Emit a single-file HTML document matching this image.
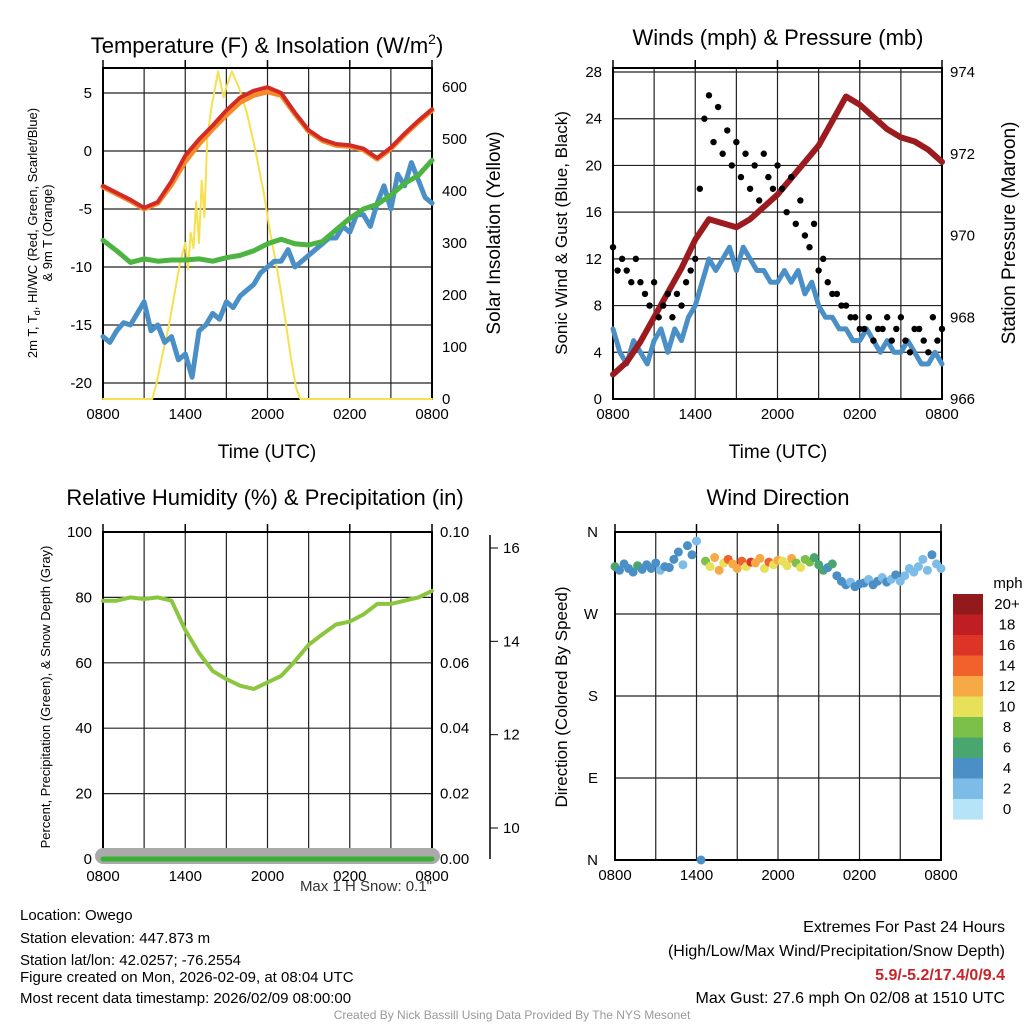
<!DOCTYPE html>
<html><head><meta charset="utf-8"><style>
body{margin:0;background:#fff}
svg{display:block;font-family:"Liberation Sans",sans-serif}
</style></head><body>
<svg id="s" width="1024" height="1024" viewBox="0 0 1024 1024" xmlns="http://www.w3.org/2000/svg">
<g id="g"></g>
<text x="267" y="53" font-size="22" text-anchor="middle">Temperature (F) &amp; Insolation (W/m<tspan font-size="14" dy="-9">2</tspan><tspan dy="9">)</tspan></text>
<text x="778" y="45" font-size="22" text-anchor="middle">Winds (mph) &amp; Pressure (mb)</text>
<text x="265" y="505" font-size="22" text-anchor="middle">Relative Humidity (%) &amp; Precipitation (in)</text>
<text x="778" y="505" font-size="22" text-anchor="middle">Wind Direction</text>
<g font-size="13" text-anchor="middle">
<text transform="translate(37,233) rotate(-90)">2m T, T<tspan font-size="9" dy="3">d</tspan><tspan dy="-3">, HI/WC (Red, Green, Scarlet/Blue)</tspan></text>
<text transform="translate(52,233) rotate(-90)">&amp; 9m T (Orange)</text>
</g>
<text transform="translate(500,233) rotate(-90)" font-size="19" text-anchor="middle">Solar Insolation (Yellow)</text>
<text x="267" y="458" font-size="19" text-anchor="middle">Time (UTC)</text>
<text transform="translate(567,233) rotate(-90)" font-size="17" text-anchor="middle">Sonic Wind &amp; Gust (Blue, Black)</text>
<text transform="translate(1015,233) rotate(-90)" font-size="19" text-anchor="middle">Station Pressure (Maroon)</text>
<text x="778" y="458" font-size="19" text-anchor="middle">Time (UTC)</text>
<text transform="translate(50,697) rotate(-90)" font-size="13" text-anchor="middle">Percent, Precipitation (Green), &amp; Snow Depth (Gray)</text>
<text transform="translate(567,697) rotate(-90)" font-size="17" text-anchor="middle">Direction (Colored By Speed)</text>
<text x="432" y="891" font-size="15" text-anchor="end" fill="#333">Max 1 H Snow: 0.1"</text>
<text x="1008" y="588" font-size="15" text-anchor="middle">mph</text>
<g font-size="15">
<text x="20" y="920">Location: Owego</text>
<text x="20" y="943">Station elevation: 447.873 m</text>
<text x="20" y="965">Station lat/lon: 42.0257; -76.2554</text>
<text x="20" y="982">Figure created on Mon, 2026-02-09, at 08:04 UTC</text>
<text x="20" y="1003">Most recent data timestamp: 2026/02/09 08:00:00</text>
</g>
<g font-size="16" text-anchor="end">
<text x="1005" y="932">Extremes For Past 24 Hours</text>
<text x="1005" y="956">(High/Low/Max Wind/Precipitation/Snow Depth)</text>
<text x="1005" y="980" fill="#c8242a" font-weight="bold">5.9/-5.2/17.4/0/9.4</text>
<text x="1005" y="1003">Max Gust: 27.6 mph On 02/08 at 1510 UTC</text>
</g>
<text x="512" y="1019" font-size="12" fill="#999" text-anchor="middle">Created By Nick Bassill Using Data Provided By The NYS Mesonet</text>
</svg>
<script>
// time axis: hours since 0800 UTC
const xTickLabels=["0800","1400","2000","0200","0800"];
const halfHours=[];for(let i=0;i<=48;i++)halfHours.push(i/2);
const hours=[];for(let i=0;i<=24;i++)hours.push(i);
const thirds=[];for(let i=0;i<=72;i++)thirds.push(i/3);
// temperature panel
const temp2m=[-3,-3.6,-4.2,-4.9,-4.4,-2.6,-0.4,1.0,2.2,3.5,4.6,5.2,5.5,5.0,3.3,1.8,1.0,0.6,0.5,0.2,-0.6,0.3,1.5,2.6,3.6];
const temp9m=[-3.1,-3.7,-4.3,-5.0,-4.5,-2.9,-0.9,0.6,1.9,3.1,4.2,4.8,5.1,4.8,3.2,1.7,0.9,0.5,0.4,0.1,-0.7,0.2,1.4,2.5,3.5];
const dewpt=[-7.7,-8.6,-9.6,-9.3,-9.5,-9.4,-9.4,-9.3,-9.5,-9.2,-9.0,-8.6,-8.0,-7.6,-8.0,-8.1,-7.8,-6.8,-5.8,-5.0,-4.6,-3.8,-2.8,-2.1,-0.8];
const windChill=[-16,-16.5,-15.5,-14.8,-15,-14,-13,-15.5,-15,-16.5,-16,-18,-17.5,-19.5,-15.5,-15,-14,-14.5,-13,-13.5,-12.5,-12,-11.5,-10.5,-10,-9.5,-9.5,-8.5,-10,-9.5,-9,-8.5,-8,-7.5,-7.5,-6.5,-7,-5.5,-5.5,-6.5,-4.5,-3,-5,-2,-3,-1,-2.5,-4,-4.5];
const solarTimes=[0,3.6,3.9,4.3,4.8,5.2,5.6,6.0,6.2,6.4,6.6,6.8,7.0,7.2,7.4,7.6,7.9,8.4,8.8,9.0,9.4,9.9,10.5,11.1,11.7,12.2,12.7,13.2,13.7,14.1,14.4,24];
const solar=[0,0,30,80,140,200,260,300,250,320,290,380,300,420,350,500,560,630,580,600,630,600,550,480,400,320,250,170,80,20,0,0];
const tempTicks=[5,0,-5,-10,-15,-20];
const solarTicks=[0,100,200,300,400,500,600];
// wind panel
const windSpeed=[6,4,3,5,4,3,5,6,4,6,5,7,8,10,12,11,12,13,11,13,12,11,11,10,10,11,10,11,9,10,8,7,7,6,6,5,5,6,5,4,5,4,4,5,4,3,3,4,3];
const gust=[13,11,12,11,10,12,10,9,8,10,7,8,9,7,9,8,10,11,12,18,24,26,22,25,21,23,20,22,19,21,18,20,17,21,19,18,20,18,16,19,15,17,14,13,15,11,12,10,9,9,8,8,7,7,6,6,7,5,6,6,7,5,6,7,5,4,6,6,5,4,7,5,6];
const pressure=[966.6,966.9,967.4,968.0,968.6,969.2,969.9,970.4,970.3,970.2,970.4,970.7,971.0,971.4,971.8,972.2,972.8,973.4,973.2,972.9,972.6,972.4,972.3,972.1,971.8];
const windTicks=[0,4,8,12,16,20,24,28];
const pressTicks=[966,968,970,972,974];
// RH panel
const rh=[79,79,80,79.5,80,79,70,63,57.5,55,53,52,54,56,60.5,65.5,68.7,71.7,72.6,74.8,78,78,79,80,82];
const precip=[0,0,0,0,0,0,0,0,0,0,0,0,0,0,0,0,0,0,0,0,0,0,0,0,0];
const rhTicks=[0,20,40,60,80,100];
const precipTicks=["0.00","0.02","0.04","0.06","0.08","0.10"];
const snowTicks=[10,12,14,16];
// wind direction panel
const wdir=[322,318,325,320,316,323,319,324,320,326,318,322,321,330,338,324,345,335,350,0,328,322,332,318,326,330,325,320,328,322,327,326,331,320,327,324,329,328,323,331,326,321,330,327,332,324,318,321,325,312,306,302,305,300,303,304,308,302,306,310,305,308,313,306,312,320,316,322,330,318,335,325,320];
const wspd=[6,5,4,5,4,6,5,5,4,4,3,5,4,4,5,3,4,5,3,4,9,11,12,13,10,14,13,12,15,11,16,13,12,11,14,10,12,11,10,12,9,11,8,9,7,6,7,5,6,5,4,4,3,4,4,4,3,4,4,3,4,3,4,3,2,3,2,2,3,2,4,2,3];
const dirLabels=["N","E","S","W","N"];
const cbLabels=["20+","18","16","14","12","10","8","6","4","2","0"];
const cbColors=["#931a1c","#bf1e24","#dc3528","#f0612c","#f7a945","#e6e159","#7cc04a","#48a66e","#4a8fc6","#7dbce6","#b7e3f8"];

const NS="http://www.w3.org/2000/svg";const G=document.getElementById("g");
function mk(t,a,p){const e=document.createElementNS(NS,t);for(const k in a)e.setAttribute(k,a[k]);(p||G).appendChild(e);return e;}
function lin(d0,d1,r0,r1){return v=>r0+(v-d0)*(r1-r0)/(d1-d0);}
function frame(x0,x1,y0,y1,name,hlines){
  const g=mk("g",{});
  
  
  const xs=lin(0,24,x0,x1);
  for(let h=3;h<24;h+=3){const l=mk("line",{x1:xs(h),x2:xs(h),y1:y0,y2:y1,stroke:"#222","stroke-width":1.2},g);}
  hlines.forEach(y=>{const l=mk("line",{x1:x0,x2:x1,y1:y,y2:y,stroke:"#222","stroke-width":1.2},g);});
  const r=mk("rect",{x:x0,y:y0,width:x1-x0,height:y1-y0,fill:"none",stroke:"#000","stroke-width":2},g);
  
  xTickLabels.forEach((t,i)=>{const tx=mk("text",{x:xs(i*6),y:y1+20,"font-size":15,"text-anchor":"middle"},g);tx.textContent=t;
    const tk=mk("line",{x1:xs(i*6),x2:xs(i*6),y1:y0-8,y2:y0,stroke:"#000","stroke-width":1.5},g);});
  return xs;
}
function path(xs,ys,tv,vv,attrs,name){
  let d="";tv.forEach((t,i)=>{d+=(i?"L":"M")+xs(t).toFixed(1)+","+ys(vv[i]).toFixed(1);});
  const p=mk("path",Object.assign({d:d,fill:"none","stroke-linejoin":"round","stroke-linecap":"round"},attrs));
  return p;
}
function ylabels(vals,ys,x,anchor,name,txt){
  vals.forEach((v,i)=>{const t=mk("text",{x:x,y:ys(typeof v==="string"?i:v)+5,"font-size":15,"text-anchor":anchor});t.textContent=txt?txt[i]:v;});
}
// Panel 1
{const x0=103,x1=432,y0=68,y1=399;
 const yT=lin(5,-20,93,383),yS=lin(0,600,399,87);
 const xs=frame(x0,x1,y0,y1,"temp-plot-area",tempTicks.map(yT));
 path(xs,yS,solarTimes,solar,{stroke:"#f7e04e","stroke-width":2},"solar-line");
 path(xs,yT,halfHours,windChill,{stroke:"#4a8fc6","stroke-width":5},"windchill-line");
 path(xs,yT,hours,dewpt,{stroke:"#4cb440","stroke-width":5},"dewpoint-line");
 path(xs,yT,hours,temp9m,{stroke:"#f58a2a","stroke-width":5},"temp-9m-line");
 path(xs,yT,hours,temp2m,{stroke:"#d42a24","stroke-width":4},"temp-2m-line");
 ylabels(tempTicks,yT,92,"end","temp-y-tick-label");
 ylabels(solarTicks,yS,442,"start","solar-y-tick-label");
}
// Panel 2
{const x0=613,x1=942,y0=68,y1=399;
 const yW=lin(0,28,399,72),yP=lin(966,974,399,72);
 const xs=frame(x0,x1,y0,y1,"wind-plot-area",windTicks.map(yW));
 path(xs,yW,halfHours,windSpeed,{stroke:"#4a8fc6","stroke-width":5},"wind-speed-line");
 path(xs,yP,hours,pressure,{stroke:"#9b1b1e","stroke-width":6},"pressure-line");
 gust.forEach((v,i)=>{const c=mk("circle",{cx:xs(thirds[i]),cy:yW(v),r:3.2,fill:"#000"});});
 ylabels(windTicks,yW,602,"end","wind-y-tick-label");
 ylabels(pressTicks,yP,950,"start","pressure-y-tick-label");
}
// Panel 3
{const x0=103,x1=432,y0=532,y1=861;
 const yR=lin(0,100,859,532),yPr=lin(0,0.1,859,532);
 const xs=frame(x0,x1,y0,y1,"rh-plot-area",rhTicks.map(yR));
 const sd=mk("line",{x1:x0,x2:x1,y1:856,y2:856,stroke:"#aaa","stroke-width":16,"stroke-linecap":"round"});
 path(xs,yPr,hours,precip,{stroke:"#3cb034","stroke-width":5},"precip-line");
 path(xs,yR,hours,rh,{stroke:"#8cc640","stroke-width":4},"rh-line");
 ylabels(rhTicks,yR,92,"end","rh-y-tick-label");
 ylabels(precipTicks,i=>yPr(i*0.02),440,"start","precip-y-tick-label");
 const yD=lin(10,16,828,548);
 const ax=mk("line",{x1:490,x2:490,y1:535,y2:859,stroke:"#000","stroke-width":1.5});
 snowTicks.forEach(v=>{const t=mk("line",{x1:490,x2:498,y1:yD(v),y2:yD(v),stroke:"#000"});});
 ylabels(snowTicks,yD,503,"start","snow-y-tick-label");
}
// Panel 4
{const x0=615,x1=941,y0=532,y1=860;
 const yD=lin(0,360,860,532);
 const xs=frame(x0,x1,y0,y1,"wdir-plot-area",[0,90,180,270,360].map(yD));
 ylabels([0,90,180,270,360],yD,598,"end","wdir-y-tick-label",dirLabels);
 function col(s){let k=Math.floor(s/2);if(k>10)k=10;return cbColors[10-k];}
 wdir.forEach((d,i)=>{const c=mk("circle",{cx:xs(thirds[i]),cy:yD(d),r:4.5,fill:col(wspd[i])});});
 cbColors.forEach((c,i)=>{const r=mk("rect",{x:953,y:594+i*20.5,width:30,height:20.6,fill:c});
   const t=mk("text",{x:1007,y:594+i*20.5+15,"font-size":15,"text-anchor":"middle"});t.textContent=cbLabels[i];});
}
</script>
</body></html>
